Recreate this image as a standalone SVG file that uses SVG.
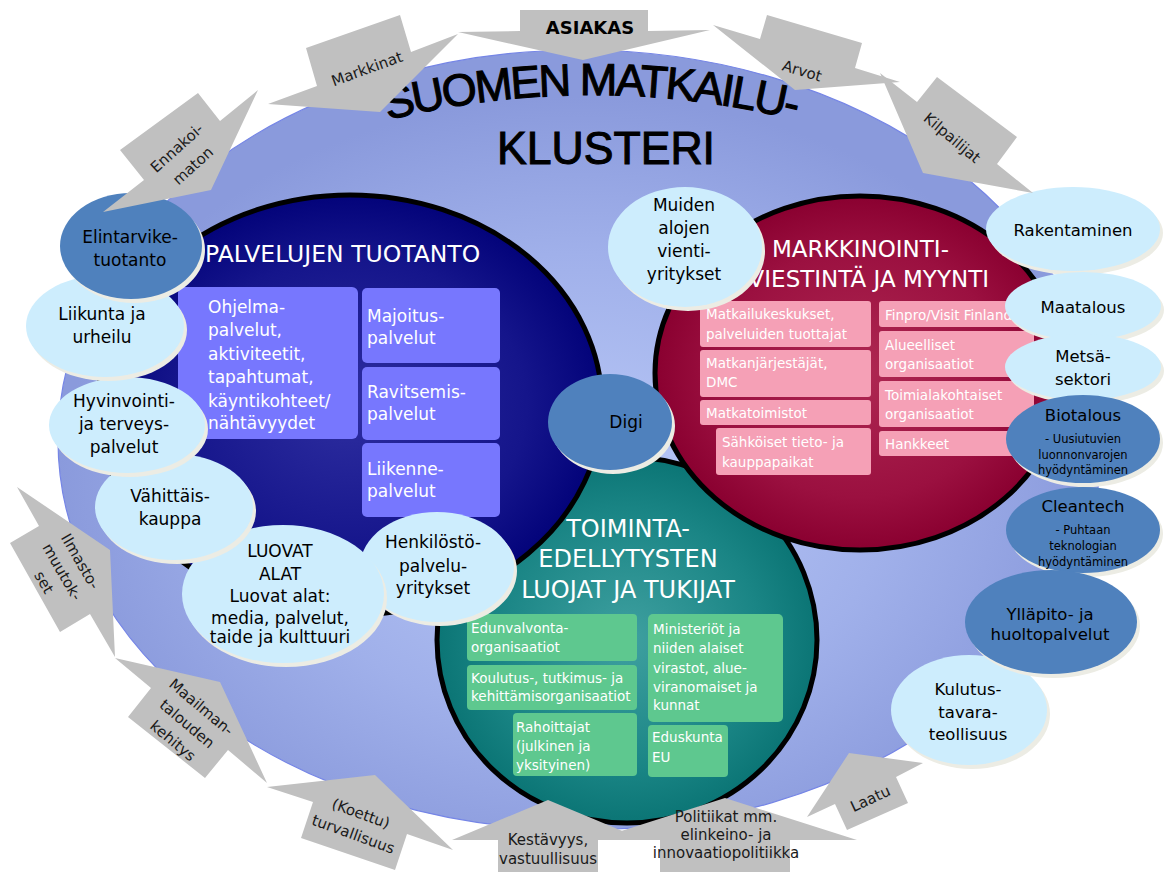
<svg xmlns="http://www.w3.org/2000/svg" width="1170" height="872" viewBox="0 0 1170 872">
<defs>
<radialGradient id="gBg" cx="0.5" cy="0.56" r="0.5">
<stop offset="0" stop-color="#bac9f7"/>
<stop offset="0.6" stop-color="#a0b0ea"/>
<stop offset="1" stop-color="#8a9adc"/>
</radialGradient>
<radialGradient id="gNavy" cx="0.5" cy="0.5" r="0.5">
<stop offset="0" stop-color="#2e2ea0"/>
<stop offset="0.7" stop-color="#15158b"/>
<stop offset="1" stop-color="#03037a"/>
</radialGradient>
<radialGradient id="gRed" cx="0.5" cy="0.5" r="0.5">
<stop offset="0" stop-color="#ae2852"/>
<stop offset="0.7" stop-color="#9b1040"/>
<stop offset="1" stop-color="#8a0030"/>
</radialGradient>
<radialGradient id="gTeal" cx="0.5" cy="0.5" r="0.5">
<stop offset="0" stop-color="#3fa0a0"/>
<stop offset="0.7" stop-color="#1a8585"/>
<stop offset="1" stop-color="#0b7575"/>
</radialGradient>
<path id="arcTitle" d="M 380 122 A 850 850 0 0 1 804 122" fill="none"/>
<style>
.f{font-family:"DejaVu Sans","Noto Sans",sans-serif}
.ttl{font-family:"Liberation Sans",Arial,sans-serif;fill:#000;stroke:#000;stroke-width:1.1}
.lb{fill:#cdedfd}
.db{fill:#4f81bd}
.sh{fill:#ecece4}
.arr{fill:#c0c0c0}
.bt{font-size:17px;fill:#000;text-anchor:middle}
.rt{font-size:16.5px;fill:#000;text-anchor:middle}
.st{font-size:11.5px;fill:#000;text-anchor:middle}
.wt{fill:#fff}
.big{font-size:17px}
.sm{font-size:13.5px}
.pb{fill:#7777fe}
.pk{fill:#f5a0b6}
.gb{fill:#5ec88f}
.al{font-size:15px;fill:#1a1a1a;text-anchor:middle}
.ring{stroke:#000;stroke-width:5}
</style>
</defs>

<rect width="1170" height="872" fill="#fff"/>

<g id="cluster">
<ellipse cx="580" cy="440" rx="522" ry="390" fill="url(#gBg)" stroke="#7585e6" stroke-width="1.2"/>
<text class="ttl" font-size="45" letter-spacing="-2.3"><textPath href="#arcTitle" startOffset="8">SUOMEN MATKAILU-</textPath></text>
<text class="ttl" x="497" y="164" font-size="47" textLength="218" lengthAdjust="spacingAndGlyphs">KLUSTERI</text>
</g>

<g id="toiminta">
<ellipse class="ring" cx="627" cy="640" rx="190" ry="183" fill="url(#gTeal)"/>
<g class="f wt" font-size="24" text-anchor="middle">
<text x="628" y="537">TOIMINTA-</text>
<text x="628" y="567">EDELLYTYSTEN</text>
<text x="628" y="598">LUOJAT JA TUKIJAT</text>
</g>
<rect class="gb" x="467" y="614" width="170" height="47" rx="4"/>
<rect class="gb" x="467" y="665" width="170" height="45" rx="4"/>
<rect class="gb" x="513" y="713" width="124" height="63" rx="4"/>
<rect class="gb" x="648" y="614" width="135" height="108" rx="5"/>
<rect class="gb" x="648" y="725" width="80" height="52" rx="4"/>
<g class="f wt sm">
<text x="471" y="633">Edunvalvonta-</text>
<text x="471" y="652">organisaatiot</text>
<text x="471" y="683">Koulutus-, tutkimus- ja</text>
<text x="471" y="701">kehittämisorganisaatiot</text>
<text x="516" y="732">Rahoittajat</text>
<text x="516" y="751">(julkinen ja</text>
<text x="516" y="770">yksityinen)</text>
<text x="653" y="634">Ministeriöt ja</text>
<text x="653" y="653">niiden alaiset</text>
<text x="653" y="673">virastot, alue-</text>
<text x="653" y="692">viranomaiset ja</text>
<text x="653" y="710">kunnat</text>
<text x="652" y="742">Eduskunta</text>
<text x="652" y="762">EU</text>
</g>
</g>

<g id="palvelujen">
<ellipse class="ring" cx="350" cy="405" rx="252" ry="210" fill="url(#gNavy)"/>
<text class="f wt" x="205" y="262" font-size="23.5">PALVELUJEN TUOTANTO</text>
<rect class="pb" x="178" y="287" width="180" height="152" rx="6"/>
<rect class="pb" x="362" y="288" width="138" height="75" rx="5"/>
<rect class="pb" x="362" y="367" width="138" height="73" rx="5"/>
<rect class="pb" x="362" y="443" width="138" height="74" rx="5"/>
<g class="f wt big">
<text x="208" y="313">Ohjelma-</text>
<text x="208" y="336">palvelut,</text>
<text x="208" y="360">aktiviteetit,</text>
<text x="208" y="383">tapahtumat,</text>
<text x="208" y="407">käyntikohteet/</text>
<text x="208" y="429">nähtävyydet</text>
<text x="367" y="322">Majoitus-</text>
<text x="367" y="344">palvelut</text>
<text x="367" y="398">Ravitsemis-</text>
<text x="367" y="420">palvelut</text>
<text x="367" y="475">Liikenne-</text>
<text x="367" y="497">palvelut</text>
</g>
</g>

<g id="markkinointi">
<ellipse class="ring" cx="860" cy="373" rx="205" ry="177" fill="url(#gRed)"/>
<g class="f wt" font-size="23">
<text x="772" y="257">MARKKINOINTI-</text>
<text x="989" y="287" text-anchor="end">VIESTINTÄ JA MYYNTI</text>
</g>
<rect class="pk" x="700" y="301" width="171" height="46" rx="3"/>
<rect class="pk" x="700" y="350" width="171" height="47" rx="3"/>
<rect class="pk" x="700" y="400" width="171" height="25" rx="3"/>
<rect class="pk" x="716" y="428" width="155" height="47" rx="3"/>
<rect class="pk" x="879" y="301" width="155" height="26" rx="3"/>
<rect class="pk" x="879" y="331" width="155" height="46" rx="3"/>
<rect class="pk" x="879" y="381" width="155" height="46" rx="3"/>
<rect class="pk" x="879" y="431" width="150" height="25" rx="3"/>
<g class="f wt sm">
<text x="706" y="319">Matkailukeskukset,</text>
<text x="706" y="339">palveluiden tuottajat</text>
<text x="706" y="368">Matkanjärjestäjät,</text>
<text x="706" y="387">DMC</text>
<text x="706" y="418">Matkatoimistot</text>
<text x="722" y="447">Sähköiset tieto-  ja</text>
<text x="722" y="467">kauppapaikat</text>
<text x="885" y="320">Finpro/Visit Finland</text>
<text x="885" y="350">Alueelliset</text>
<text x="885" y="369">organisaatiot</text>
<text x="885" y="400">Toimialakohtaiset</text>
<text x="885" y="419">organisaatiot</text>
<text x="885" y="449">Hankkeet</text>
</g>
</g>

<g id="henkilosto">
<ellipse class="sh" cx="440" cy="571" rx="77" ry="55"/>
<ellipse class="lb" cx="437" cy="567" rx="77" ry="55"/>
<g class="f bt"><text x="433" y="548">Henkilöstö-</text><text x="433" y="572">palvelu-</text><text x="433" y="594">yritykset</text></g>
</g>
<g id="luovat">
<ellipse class="sh" cx="286" cy="598" rx="101" ry="69"/>
<ellipse class="lb" cx="283" cy="594" rx="101" ry="69"/>
<g class="f bt"><text x="280" y="557">LUOVAT</text><text x="280" y="580">ALAT</text></g>
<g class="f bt" font-size="15.5"><text x="280" y="602">Luovat alat:</text><text x="280" y="624">media, palvelut,</text><text x="280" y="643">taide ja kulttuuri</text></g>
</g>
<g id="vahittais">
<ellipse class="sh" cx="177" cy="511" rx="79" ry="53"/>
<ellipse class="lb" cx="174" cy="507" rx="79" ry="53"/>
<g class="f bt"><text x="170" y="502">Vähittäis-</text><text x="170" y="525">kauppa</text></g>
</g>
<g id="hyvinvointi">
<ellipse class="sh" cx="130" cy="429" rx="78" ry="48"/>
<ellipse class="lb" cx="127" cy="425" rx="78" ry="48"/>
<g class="f bt"><text x="124" y="407">Hyvinvointi-</text><text x="124" y="430">ja terveys-</text><text x="124" y="453">palvelut</text></g>
</g>
<g id="liikunta">
<ellipse class="sh" cx="108" cy="330" rx="79" ry="51"/>
<ellipse class="lb" cx="105" cy="326" rx="79" ry="51"/>
<g class="f bt"><text x="102" y="320">Liikunta ja</text><text x="102" y="343">urheilu</text></g>
</g>
<g id="elintarvike">
<ellipse class="sh" cx="134" cy="250" rx="71" ry="53"/>
<ellipse class="db" cx="131" cy="246" rx="71" ry="53"/>
<g class="f bt"><text x="130" y="243">Elintarvike-</text><text x="130" y="266">tuotanto</text></g>
</g>

<g id="muiden">
<ellipse class="sh" cx="688" cy="251" rx="77" ry="60"/>
<ellipse class="lb" cx="685" cy="247" rx="77" ry="60"/>
<g class="f bt"><text x="684" y="211">Muiden</text><text x="684" y="234">alojen</text><text x="684" y="257">vienti-</text><text x="684" y="280">yritykset</text></g>
</g>
<g id="digi">
<ellipse class="sh" cx="613" cy="426" rx="62" ry="48"/>
<ellipse class="db" cx="610" cy="422" rx="62" ry="48"/>
<text class="f bt" x="626" y="428">Digi</text>
</g>

<g id="rakentaminen">
<ellipse class="sh" cx="1076" cy="233" rx="87" ry="42"/>
<ellipse class="lb" cx="1073" cy="229" rx="87" ry="42"/>
<text class="f rt" x="1073" y="236">Rakentaminen</text>
</g>
<g id="maatalous">
<ellipse class="sh" cx="1086" cy="310" rx="78" ry="34"/>
<ellipse class="lb" cx="1083" cy="306" rx="78" ry="34"/>
<text class="f rt" x="1083" y="313">Maatalous</text>
</g>
<g id="metsa">
<ellipse class="sh" cx="1086" cy="371" rx="78" ry="33"/>
<ellipse class="lb" cx="1083" cy="367" rx="78" ry="33"/>
<g class="f rt"><text x="1083" y="362">Metsä-</text><text x="1083" y="385">sektori</text></g>
</g>
<g id="biotalous">
<ellipse class="sh" cx="1086" cy="443" rx="77" ry="44"/>
<ellipse class="db" cx="1083" cy="439" rx="77" ry="44"/>
<text class="f rt" x="1083" y="421">Biotalous</text>
<g class="f st"><text x="1083" y="443">- Uusiutuvien</text><text x="1083" y="459">luonnonvarojen</text><text x="1083" y="474">hyödyntäminen</text></g>
</g>
<g id="cleantech">
<ellipse class="sh" cx="1086" cy="534" rx="77" ry="43"/>
<ellipse class="db" cx="1083" cy="530" rx="77" ry="43"/>
<text class="f rt" x="1083" y="512">Cleantech</text>
<g class="f st"><text x="1083" y="534">- Puhtaan</text><text x="1083" y="550">teknologian</text><text x="1083" y="566">hyödyntäminen</text></g>
</g>
<g id="kulutus">
<ellipse class="sh" cx="972" cy="714" rx="78" ry="55"/>
<ellipse class="lb" cx="969" cy="710" rx="78" ry="55"/>
<g class="f rt"><text x="968" y="695">Kulutus-</text><text x="968" y="718">tavara-</text><text x="968" y="740">teollisuus</text></g>
</g>
<g id="yllapito">
<ellipse class="sh" cx="1054" cy="626" rx="86" ry="52"/>
<ellipse class="db" cx="1051" cy="622" rx="86" ry="52"/>
<g class="f rt" font-size="16"><text x="1050" y="620">Ylläpito- ja</text><text x="1050" y="640">huoltopalvelut</text></g>
</g>

<g id="arrows">
<g id="a-asiakas">
<polygon class="arr" points="520,10 648,10 648,31 710,30 583,60 458,32 520,31"/>
<text class="f" x="590" y="34" font-size="18" font-weight="bold" text-anchor="middle" fill="#000">ASIAKAS</text>
</g>
<g id="a-markkinat">
<polygon class="arr" points="306,48 400,15 411,52 458,34 380,112 268,104 317,86"/>
<text class="f al" transform="translate(367,69) rotate(-20)" y="5">Markkinat</text>
</g>
<g id="a-arvot">
<polygon class="arr" points="713,25 760,39 767,15 862,43 855,68 900,82 795,90"/>
<text class="f al" transform="translate(802,71) rotate(17)" y="5">Arvot</text>
</g>
<g id="a-kilpailijat">
<polygon class="arr" points="880,73 917,102 937,77 1017,137 997,164 1033,193 923,173"/>
<text class="f al" transform="translate(952,138) rotate(40)" y="5">Kilpailijat</text>
</g>
<g id="a-ennakoimaton">
<polygon class="arr" points="103,212 144,180 120,150 198,93 220,121 258,90 211,190"/>
<g class="f al" transform="translate(185,157) rotate(-42)"><text y="-7">Ennakoi-</text><text y="17">maton</text></g>
</g>
<g id="a-ilmasto">
<polygon class="arr" points="17,487 110,550 115,657 90,614 60,632 10,543 39,526"/>
<g class="f al" transform="translate(62,572) rotate(60)"><text y="-16">Ilmasto-</text><text y="5">muutok-</text><text y="26">set</text></g>
</g>
<g id="a-maailman">
<polygon class="arr" points="115,658 220,682 267,783 228,750 205,778 128,717 151,688"/>
<g class="f al" transform="translate(187,724) rotate(40)"><text y="-17">Maailman-</text><text y="5">talouden</text><text y="27">kehitys</text></g>
</g>
<g id="a-koettu">
<polygon class="arr" points="267,787 375,775 453,850 407,834 395,870 301,838 313,802"/>
<g class="f al" transform="translate(357,824) rotate(20)"><text y="-6">(Koettu)</text><text y="16">turvallisuus</text></g>
</g>
<g id="a-kestavyys">
<polygon class="arr" points="452,840 548,800 644,840 598,840 598,872 498,872 498,840"/>
<g class="f al" font-size="15.5" fill="#000"><text x="548" y="845">Kestävyys,</text><text x="548" y="864">vastuullisuus</text></g>
</g>
<g id="a-politiikat">
<polygon class="arr" points="593,840 725,798 857,840 790,840 790,872 660,872 660,840"/>
<g class="f al" font-size="13.5" fill="#000"><text x="726" y="822">Politiikat mm.</text><text x="726" y="840">elinkeino- ja</text><text x="726" y="858">innovaatiopolitiikka</text></g>
</g>
<g id="a-laatu">
<polygon class="arr" points="807,817 849,753 923,763 896,777 908,803 847,830 835,804"/>
<text class="f al" font-size="16" transform="translate(870,798) rotate(-25)" y="6">Laatu</text>
</g>
</g>
</svg>
